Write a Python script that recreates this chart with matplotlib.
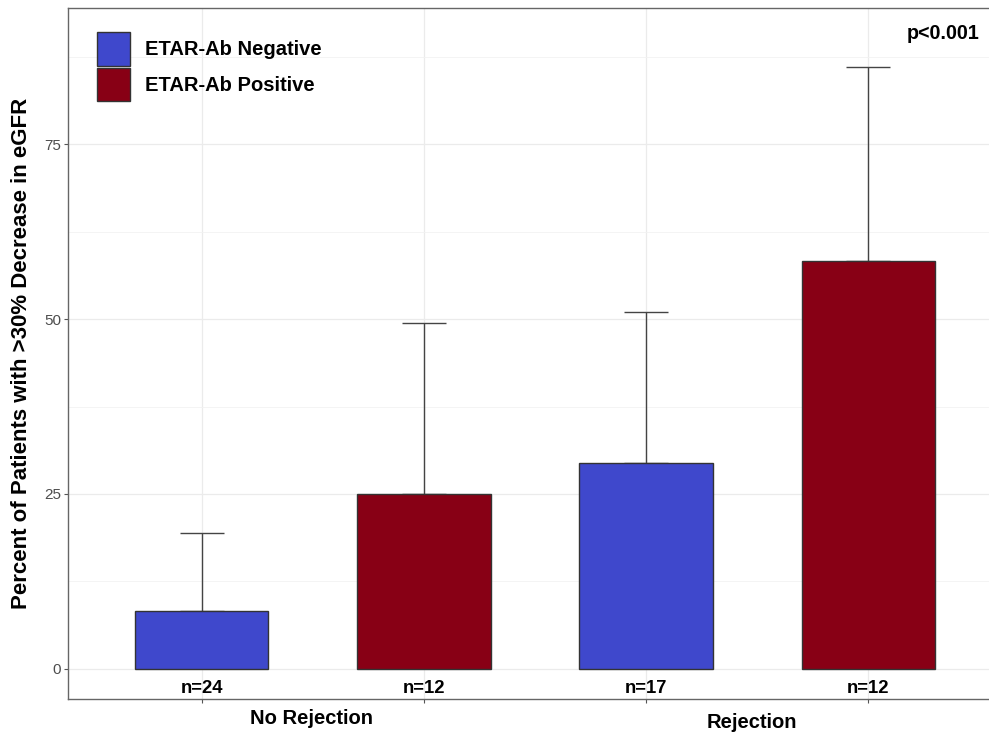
import numpy as np
import matplotlib.pyplot as plt
from matplotlib.ticker import MultipleLocator
from matplotlib.patches import Patch

plt.rcParams['font.family'] = ['Liberation Sans', 'DejaVu Sans']

# data
groups = ['No Rejection', 'Rejection']
status = ['ETAR-Ab Negative', 'ETAR-Ab Positive']
percent = [8.3, 25.0, 29.4, 58.3]
upper = [19.4, 49.5, 51.0, 86.1]
counts = ['n=24', 'n=12', 'n=17', 'n=12']
colors = ['#3f48cc', '#880015']

x = np.arange(1, len(percent) + 1)
bar_colors = [colors[i % 2] for i in range(len(percent))]

fig = plt.figure(figsize=(9.89, 7.32), dpi=100)
ax = fig.add_axes([0.0688, 0.0451, 0.9312, 0.944])

ax.bar(x, percent, width=0.6, color=bar_colors, edgecolor='#333333',
       linewidth=1.0, zorder=3)
err = np.array(upper) - np.array(percent)
ax.errorbar(x, percent, yerr=[np.zeros(len(err)), err], fmt='none',
            ecolor='#444444', elinewidth=1.0, capsize=15.8, capthick=1.0,
            zorder=2)

ax.set_xlim(0.399, 4.543)
ax.set_ylim(-4.33, 94.5)
ax.set_xticks(x)
ax.set_xticklabels([])
ax.yaxis.set_major_locator(MultipleLocator(25))
ax.yaxis.set_minor_locator(MultipleLocator(12.5))
ax.tick_params(axis='y', which='minor', length=0)
ax.tick_params(axis='both', which='major', length=3, color='#555555',
               labelsize=11, labelcolor='#4d4d4d', pad=2)
ax.grid(which='major', color='#ebebeb', linewidth=0.9, zorder=0)
ax.grid(which='minor', axis='y', color='#f2f2f2', linewidth=0.6, zorder=0)
ax.set_axisbelow(True)
for side in ['top', 'left', 'bottom']:
    ax.spines[side].set_color('#666666')
    ax.spines[side].set_linewidth(1.0)
ax.spines['right'].set_visible(False)

for xi, c in zip(x, counts):
    ax.text(xi, -2.8, c, ha='center', va='center', fontsize=13.3,
            fontweight='bold')

ax.set_ylabel('Percent of Patients with >30% Decrease in eGFR',
              fontsize=16, fontweight='bold', labelpad=9)

ax.text(0.9895, 0.963, 'p<0.001', transform=ax.transAxes, ha='right',
        va='center', fontsize=14.2, fontweight='bold')

handles = [Patch(facecolor=c, edgecolor='#333333', linewidth=1.0)
           for c in colors]
ax.legend(handles, status, loc='upper left', bbox_to_anchor=(0.0315, 0.9655),
          frameon=False, borderpad=0, borderaxespad=0, handlelength=1.64,
          handleheight=2.2, labelspacing=0.1, handletextpad=0.75,
          prop={'size': 14.5, 'weight': 'bold'})

fig.text(312 / 989, 1 - 719 / 732, groups[0], ha='center', va='center',
         fontsize=14.5, fontweight='bold')
fig.text(752 / 989, 1 - 723 / 732, groups[1], ha='center', va='center',
         fontsize=14.5, fontweight='bold')

fig.savefig('out.png', dpi=100)
